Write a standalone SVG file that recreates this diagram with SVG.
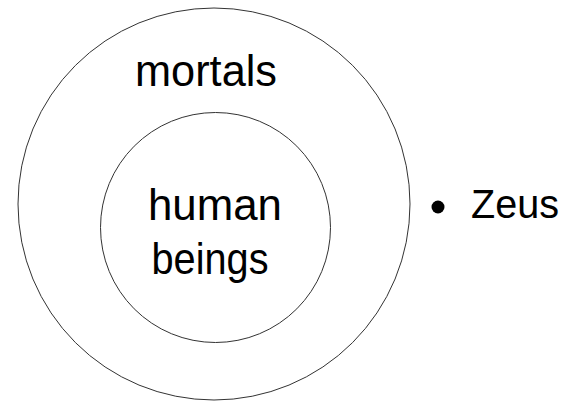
<svg xmlns="http://www.w3.org/2000/svg" width="570" height="403" viewBox="0 0 570 403">
<style>
.c{fill:none;stroke:#333;stroke-width:1}
.t{font-family:"Liberation Sans",Arial,sans-serif;font-size:44px;fill:#000}
</style>
<rect width="570" height="403" fill="#fff"/>
<g id="mortals">
<circle class="c" cx="214" cy="204" r="196"/>
<text class="t" x="206" y="86" text-anchor="middle" textLength="142" lengthAdjust="spacingAndGlyphs">mortals</text>
</g>
<g id="human-beings">
<circle class="c" cx="215.5" cy="227.5" r="115"/>
<text class="t" x="215" y="220" text-anchor="middle" textLength="134" lengthAdjust="spacingAndGlyphs">human</text>
<text class="t" x="210" y="274" text-anchor="middle" textLength="117" lengthAdjust="spacingAndGlyphs">beings</text>
</g>
<g id="zeus">
<circle cx="438" cy="207" r="6.5" fill="#000"/>
<text class="t" x="471" y="218" style="font-size:40px" textLength="88" lengthAdjust="spacingAndGlyphs">Zeus</text>
</g>
<g id="connectors"/>
</svg>
